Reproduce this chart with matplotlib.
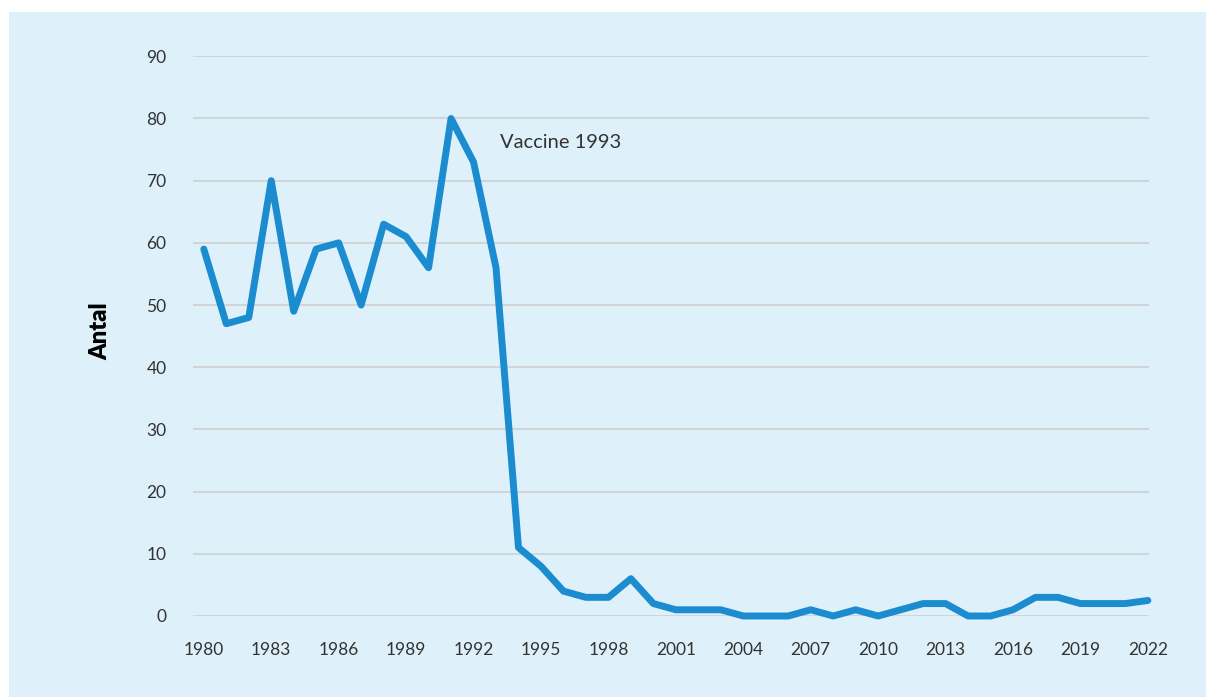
import matplotlib

matplotlib.use("Agg")
import matplotlib.pyplot as plt

YEARS = list(range(1980, 2023))
CASES = [
    59, 47, 48, 70, 49, 59, 60, 50, 63, 61,
    56, 80, 73, 56, 11, 8, 4, 3, 3, 6,
    2, 1, 1, 1, 0, 0, 0, 1, 0, 1,
    0, 1, 2, 2, 0, 0, 1, 3, 3, 2,
    2, 2, 2.5,
]
X_TICKS = list(range(1980, 2023, 3))
Y_TICKS = list(range(0, 91, 10))
NOTE = "Vaccine 1993"

BG = "#def1fa"
LINE = "#1b8ccf"
TEXT = "#333333"

plt.rcParams["font.family"] = ["Lato", "DejaVu Sans"]

fig = plt.figure(figsize=(12.06, 6.97), dpi=100)
fig.patch.set_facecolor("white")

# light blue panel with a thin white margin on top/left
bg = fig.add_axes([9 / 1206, 0, 1 - 9 / 1206, 1 - 12 / 697], zorder=-1)
bg.axis("off")
bg.add_patch(plt.Rectangle((0, 0), 1, 1, transform=bg.transAxes,
                           facecolor=BG, edgecolor="none"))

ax = fig.add_axes([193 / 1206, 1 - 616 / 697, (1149 - 193) / 1206, (616 - 56.3) / 697])
ax.set_facecolor("none")

ax.plot(YEARS, CASES, color=LINE, linewidth=5, solid_capstyle="round",
        solid_joinstyle="round", clip_on=False, zorder=3)

ax.set_xlim(1979.52, 2022.05)
ax.set_ylim(0, 90)
ax.set_xticks(X_TICKS)
ax.set_yticks(Y_TICKS)
ax.tick_params(length=0, labelsize=12.5, labelcolor=TEXT)
ax.tick_params(axis="y", pad=19)
ax.tick_params(axis="x", pad=19)
ax.grid(True, axis="y", color="#d0d0d0", linewidth=1.2)
ax.set_axisbelow(True)
for s in ax.spines.values():
    s.set_visible(False)

ax.set_ylabel("Antal", fontsize=17, fontweight="heavy", color="black", va="center")
ax.yaxis.set_label_coords(-0.0973, 0.509)

ax.text(1993.17, 76.2, NOTE, ha="left", va="center", fontsize=14.5, color=TEXT)

fig.savefig("out.png", dpi=100, facecolor=fig.get_facecolor())
